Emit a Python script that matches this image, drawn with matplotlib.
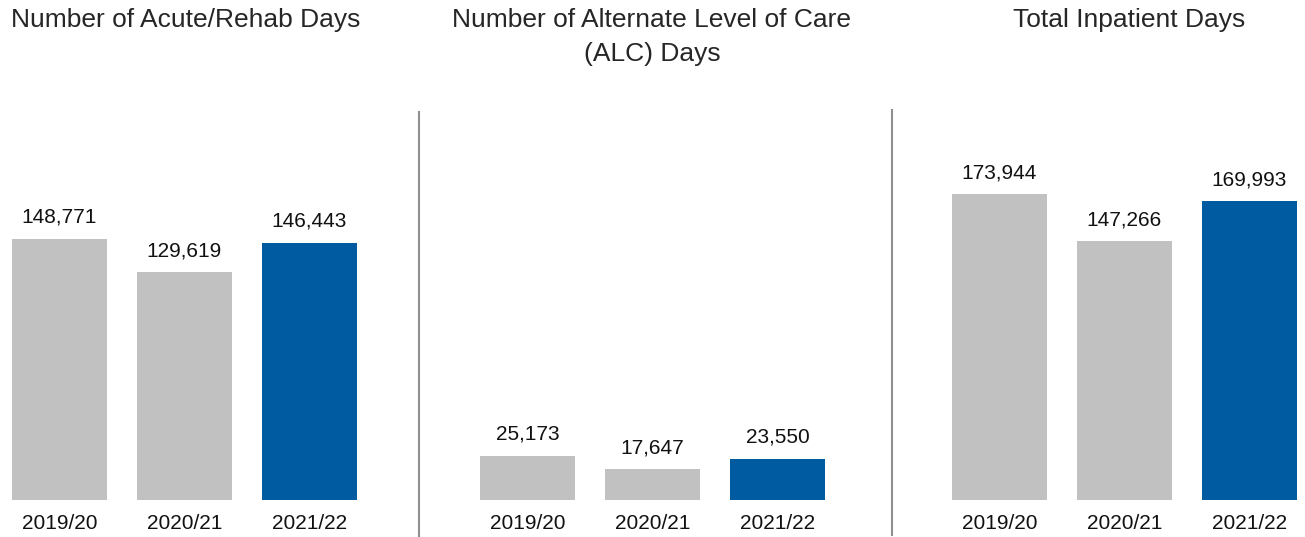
import matplotlib.pyplot as plt
from matplotlib.lines import Line2D

years = ["2019/20", "2020/21", "2021/22"]
acute_days = [148771, 129619, 146443]
alc_days = [25173, 17647, 23550]
total_days = [173944, 147266, 169993]
titles = ["Number of Acute/Rehab Days",
          "Number of Alternate Level of Care\n(ALC) Days",
          "Total Inpatient Days"]

gray = "#c1c1c1"
blue = "#005ba1"
colors = [gray, gray, blue]

plt.rcParams["font.family"] = ["Liberation Sans", "DejaVu Sans"]

W, H = 1305, 537
fig = plt.figure(figsize=(W / 100, H / 100), dpi=100)

# axes placement in pixels (left, bottom-from-top, width, height)
lefts = [3.25, 471.25, 943.25]
ax_w = 362.5
ax_top, ax_bot = 110, 500
title_x = [186, 652, 1129.5]

for i, (vals, left) in enumerate(zip([acute_days, alc_days, total_days], lefts)):
    ax = fig.add_axes([left / W, 1 - ax_bot / H, ax_w / W, (ax_bot - ax_top) / H])
    xs = range(len(years))
    bars = ax.bar(xs, vals, width=0.76, color=colors)
    for b, v in zip(bars, vals):
        ax.annotate(f"{v:,}", (b.get_x() + b.get_width() / 2, v),
                    textcoords="offset points", xytext=(0, 11.5),
                    ha="center", va="baseline", fontsize=15, color="#111111")
    ax.set_xlim(-0.45, 2.45)
    ax.set_ylim(0, 222000)
    ax.set_xticks(list(xs))
    ax.set_xticklabels(years, fontsize=15, color="#111111")
    ax.tick_params(axis="x", length=0, pad=10)
    ax.set_yticks([])
    for s in ax.spines.values():
        s.set_visible(False)
    fig.text(title_x[i] / W, 1 - 8 / H, titles[i], ha="center", va="top",
             fontsize=19, color="#262626", linespacing=1.5)

# vertical dividers between panels
for x, y0, y1 in [(419, 112, 537), (892, 110, 535)]:
    fig.add_artist(Line2D([x / W, x / W], [1 - y0 / H, 1 - y1 / H],
                          transform=fig.transFigure, color="#8f8f8f", lw=1.5))

fig.savefig("out.png", dpi=100, facecolor="white")
